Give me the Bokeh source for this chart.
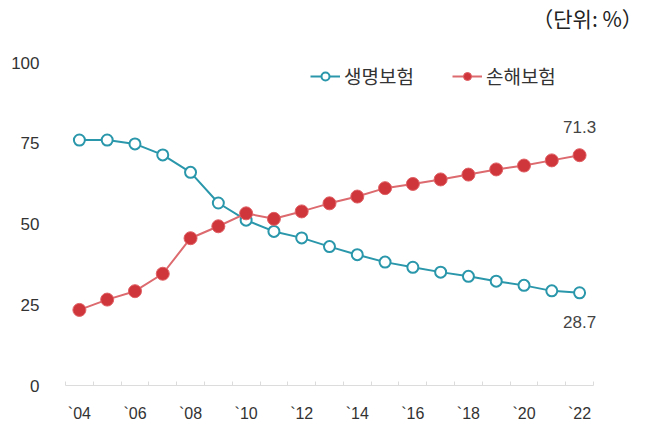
from bokeh.plotting import figure
from bokeh.models import ColumnDataSource, FixedTicker, Legend, LegendItem, Label, Range1d
from bokeh.embed import file_html
from bokeh.resources import INLINE

years = list(range(2004, 2023))
life = [76.0, 76.0, 74.8, 71.4, 66.0, 56.5, 51.2, 47.7, 45.7, 43.0, 40.5,
        38.2, 36.6, 35.1, 33.8, 32.3, 31.0, 29.3, 28.7]
nonlife = [23.4, 26.6, 29.2, 34.6, 45.6, 49.3, 53.3, 51.6, 53.9, 56.4, 58.5,
           61.1, 62.4, 63.8, 65.3, 66.9, 68.1, 69.7, 71.3]
series_names = ["생명보험", "손해보험"]
x_tick_years = [2004, 2006, 2008, 2010, 2012, 2014, 2016, 2018, 2020, 2022]
x_tick_labels = ["`04", "`06", "`08", "`10", "`12", "`14", "`16", "`18", "`20", "`22"]
y_ticks = [0, 25, 50, 75, 100]
unit_text = "（단위:  %）"

BLUE = "#2a97ab"
RED = "#cf363c"
RED_LINE = "#dc6a6e"
LAT = "Liberation Sans"
KR = "Noto Sans CJK KR"

# frame spans to the right and top edges so that annotations are not clipped;
# the axis line is limited with bounds
p = figure(width=658, height=431, output_backend="svg", toolbar_location=None,
           x_range=Range1d(2003.5, 2024.84), y_range=Range1d(0, 119.2),
           min_border_left=65, min_border_right=0, min_border_top=0,
           min_border_bottom=46)
p.outline_line_color = None
p.xgrid.visible = False
p.ygrid.visible = False
p.background_fill_color = "white"
p.border_fill_color = "white"

src = ColumnDataSource(dict(x=years, life=life, nonlife=nonlife))

l1 = p.line("x", "life", source=src, line_color=BLUE, line_width=2)
c1 = p.scatter("x", "life", source=src, size=11, marker="circle",
               line_color=BLUE, line_width=2, fill_color="white")
l2 = p.line("x", "nonlife", source=src, line_color=RED_LINE, line_width=2)
c2 = p.scatter("x", "nonlife", source=src, size=13, marker="circle",
               line_color="#e06064", line_width=1, fill_color=RED)

for yv, dy in ((nonlife[-1], 28), (life[-1], -29)):
    p.add_layout(Label(x=years[-1], y=yv, y_offset=dy, text=f"{yv:.1f}",
                       text_align="center", text_baseline="middle",
                       text_font=LAT, text_font_size="17px",
                       text_color="#444444"))

xa = p.xaxis[0]
xa.bounds = (2003.5, 2022.5)
xa.ticker = FixedTicker(ticks=x_tick_years,
                        minor_ticks=[y + 0.5 for y in range(2003, 2023)])
xa.major_label_overrides = {y: s for y, s in zip(x_tick_years, x_tick_labels)}
xa.axis_line_color = "#dcdcdc"
xa.major_tick_line_color = None
xa.minor_tick_line_color = "#dcdcdc"
xa.minor_tick_in = 4
xa.minor_tick_out = 0
xa.major_label_standoff = 13
xa.major_label_text_font = LAT
xa.major_label_text_font_size = "16px"
xa.major_label_text_color = "#333333"

ya = p.yaxis[0]
ya.ticker = FixedTicker(ticks=y_ticks)
ya.axis_line_color = None
ya.major_tick_line_color = None
ya.minor_tick_line_color = None
ya.major_label_standoff = 20
ya.major_label_text_font = LAT
ya.major_label_text_font_size = "17px"
ya.major_label_text_color = "#333333"

legend = Legend(items=[LegendItem(label=series_names[0], renderers=[l1, c1]),
                       LegendItem(label=series_names[1], renderers=[l2, c2])],
                orientation="horizontal", location=(245, 296))
legend.border_line_color = None
legend.background_fill_alpha = 0
legend.padding = 0
legend.margin = 0
legend.spacing = 38
legend.glyph_width = 30
legend.glyph_height = 20
legend.label_standoff = 4
legend.label_text_font = KR
legend.label_text_font_size = "19px"
legend.label_text_color = "#333333"
p.add_layout(legend)

unit = Label(x=582, y=368, x_units="screen", y_units="screen", text=unit_text,
             text_align="right", text_baseline="middle", text_font=KR,
             text_font_size="21px", text_color="#222222")
p.add_layout(unit)

open("out.html", "w").write(file_html(p, INLINE))
